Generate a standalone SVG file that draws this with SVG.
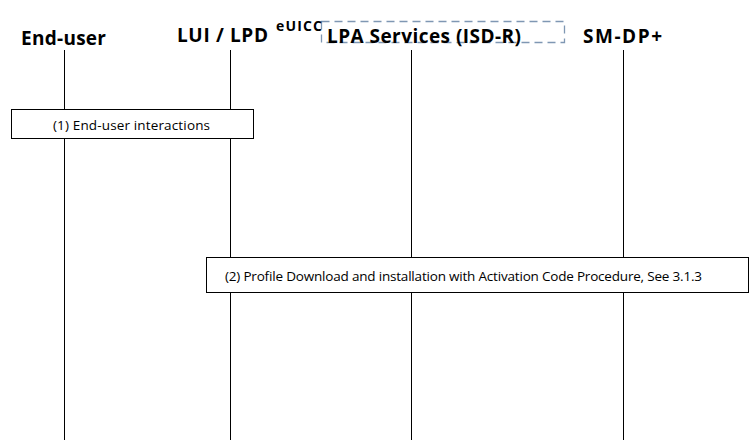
<svg xmlns="http://www.w3.org/2000/svg" width="750" height="442" viewBox="0 0 750 442">
<style>
.title{font-family:"Open Sans","Liberation Sans",sans-serif;font-weight:bold;font-size:19px;fill:#000}
.lbl{font-family:"Open Sans","Liberation Sans",sans-serif;font-size:13.5px;fill:#000}
.life{stroke:#000;stroke-width:1;fill:none}
.box{fill:#fff;stroke:#000;stroke-width:1}
</style>
<rect width="750" height="442" fill="#fff"/>
<g id="connectors">
<line class="life" x1="64.5" y1="50" x2="64.5" y2="440"/>
<line class="life" x1="230.5" y1="50" x2="230.5" y2="440"/>
<line class="life" x1="411.5" y1="50" x2="411.5" y2="440"/>
<line class="life" x1="623.5" y1="50" x2="623.5" y2="440"/>
</g>
<g id="euicc">
<rect x="321.5" y="21.5" width="243" height="21" fill="none" stroke="#7f97b3" stroke-width="1.3" stroke-dasharray="8,5"/>
<text x="276" y="31" textLength="46" lengthAdjust="spacing" style="font-family:'Open Sans','Liberation Sans',sans-serif;font-weight:bold;font-size:14px">eUICC</text>
</g>
<g id="end-user"><text class="title" x="21" y="45" textLength="85" lengthAdjust="spacing">End-user</text></g>
<g id="lui-lpd"><text class="title" x="177" y="42" textLength="91" lengthAdjust="spacing">LUI / LPD</text></g>
<g id="lpa-services"><text class="title" x="327" y="43" textLength="194" lengthAdjust="spacing">LPA Services (ISD-R)</text></g>
<g id="sm-dp"><text class="title" x="583" y="43" textLength="79" lengthAdjust="spacing">SM-DP+</text></g>
<g id="step1">
<rect class="box" x="11.5" y="109.5" width="242" height="29"/>
<text class="lbl" x="53" y="129.5" textLength="157" lengthAdjust="spacing">(1) End-user interactions</text>
</g>
<g id="step2">
<rect class="box" x="206.5" y="257.5" width="542" height="35"/>
<text class="lbl" x="225" y="280.5" textLength="477" lengthAdjust="spacing">(2) Profile Download and installation with Activation Code Procedure, See 3.1.3</text>
</g>
</svg>
